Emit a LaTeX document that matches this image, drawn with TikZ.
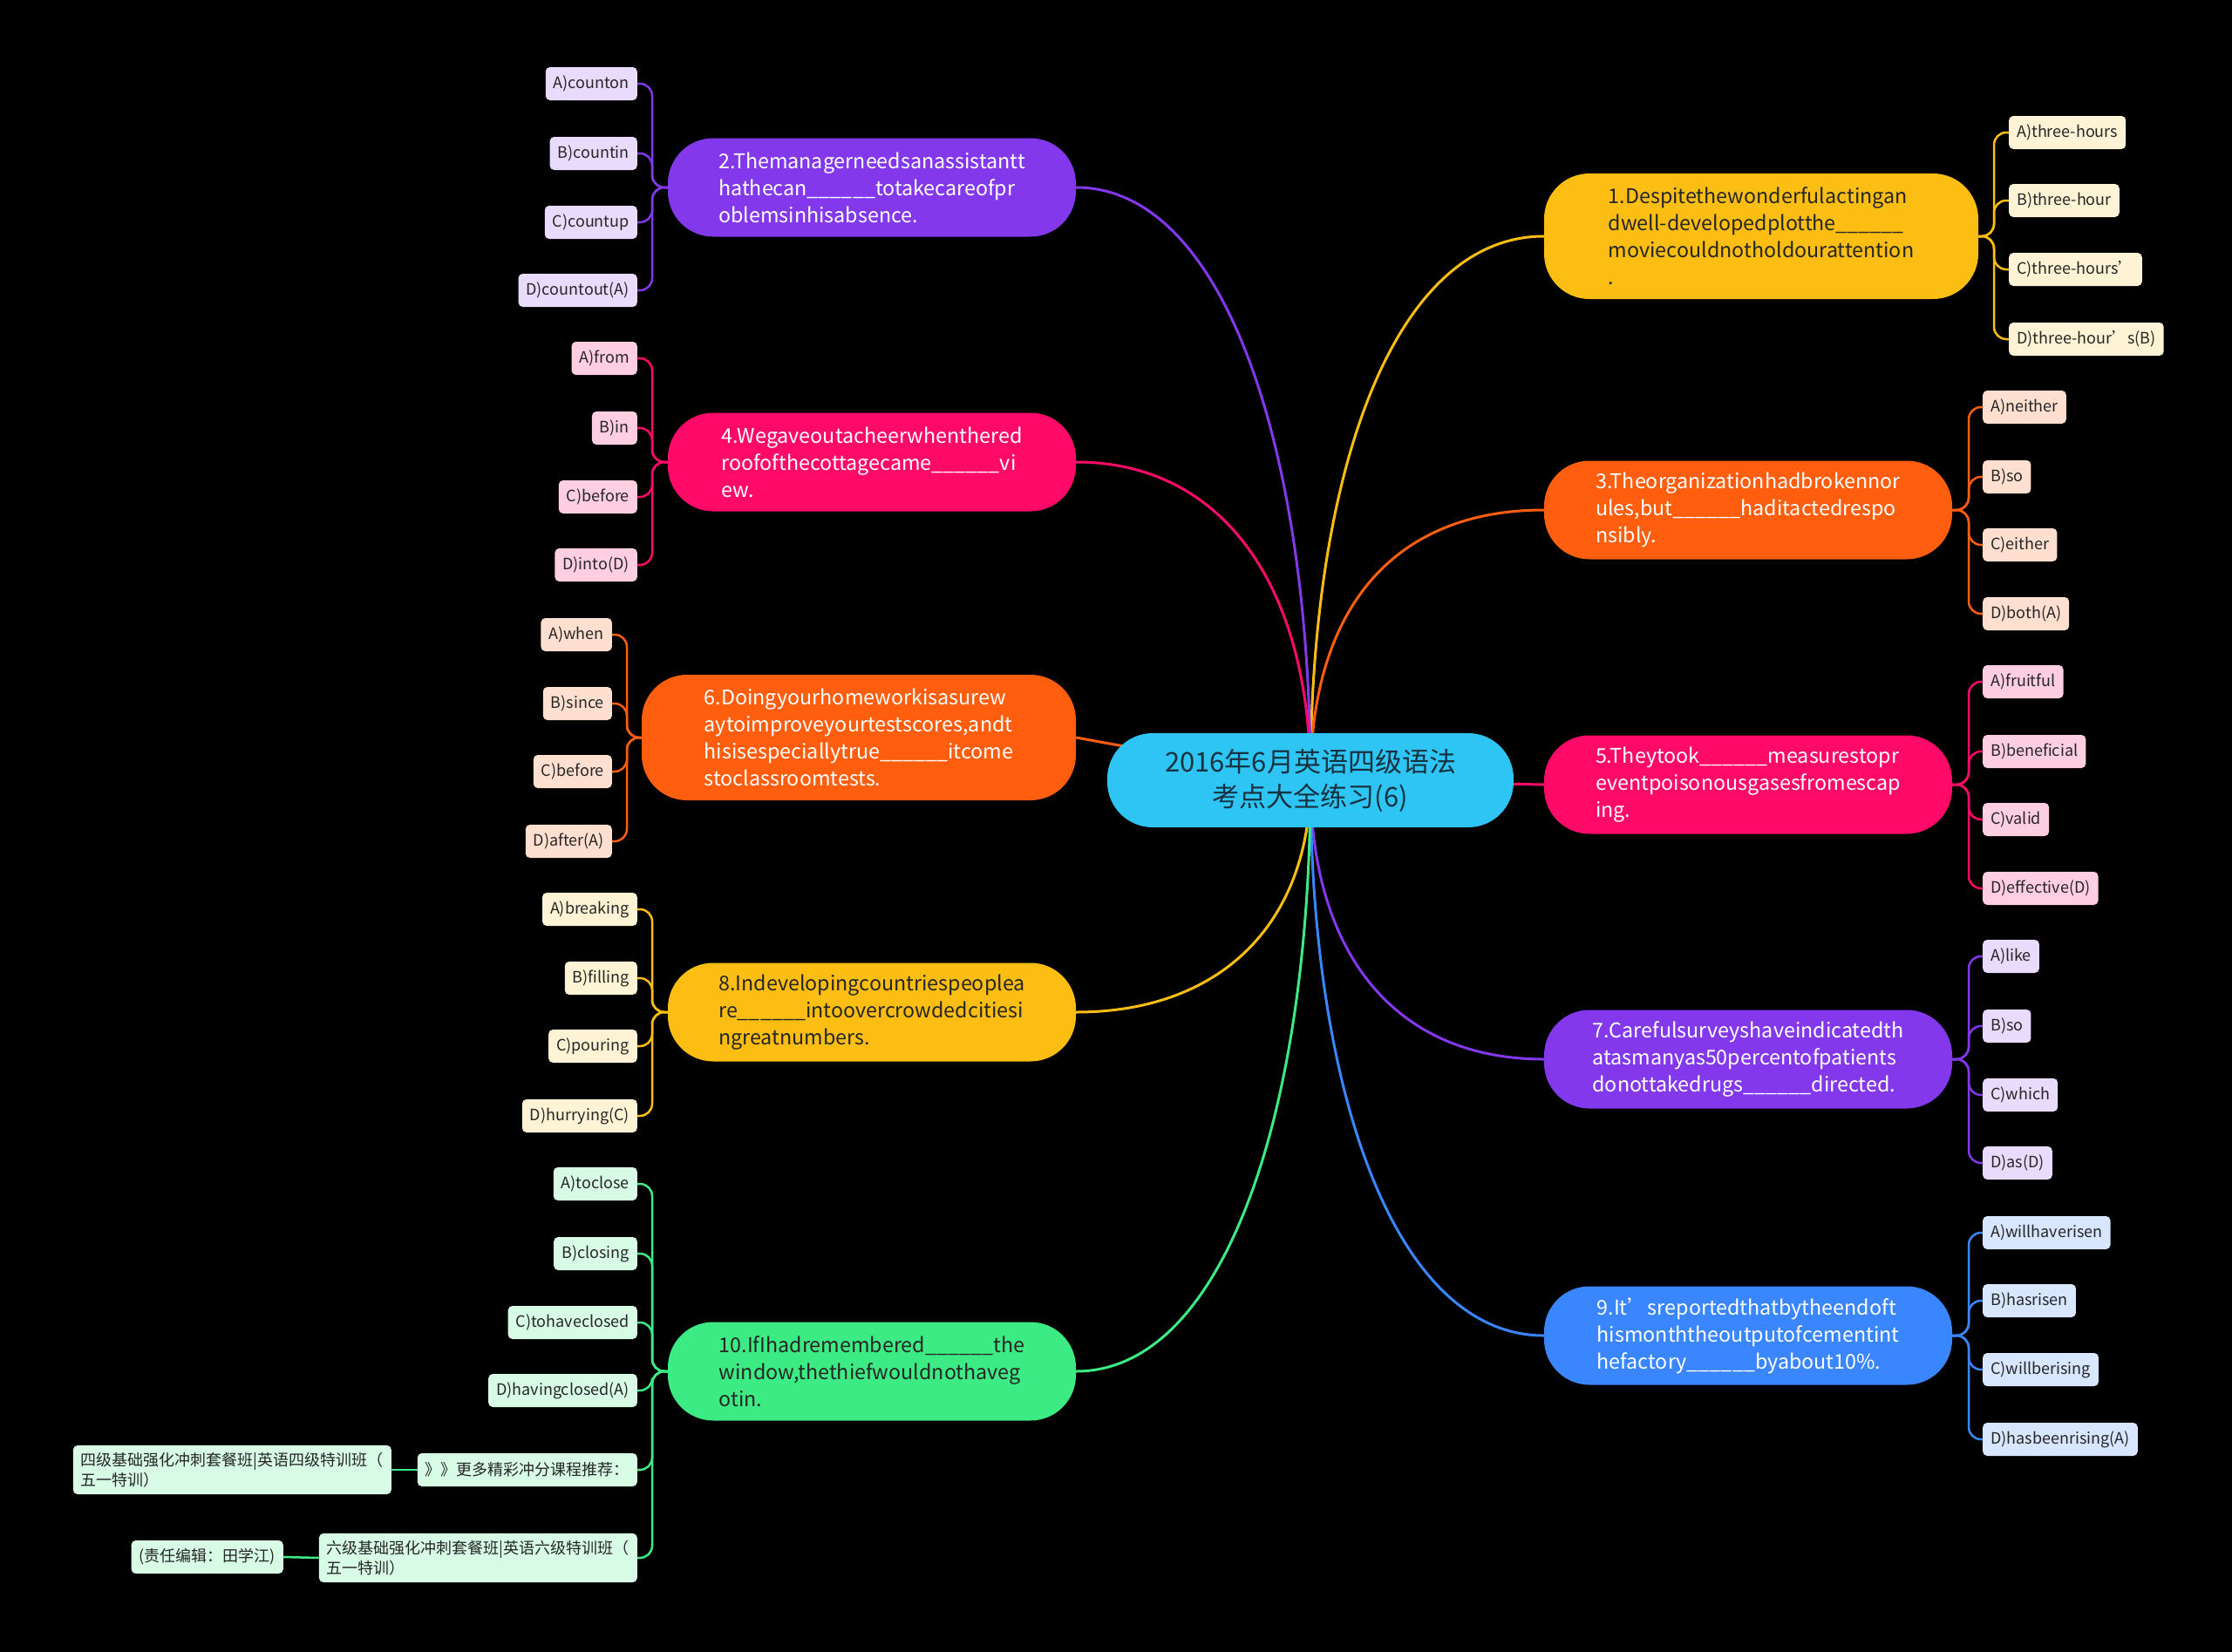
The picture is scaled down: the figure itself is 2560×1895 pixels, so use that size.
\documentclass[tikz,border=0pt]{standalone}
\usepackage{fontspec}
\setmainfont{Noto Sans CJK SC}
\usepackage{xcolor}
\usepackage{tikz}
\usetikzlibrary{positioning,backgrounds}

\definecolor{qcyan}{HTML}{2EC4F3}
\definecolor{qyellow}{HTML}{FDBE13}
\definecolor{qorange}{HTML}{FF5E0E}
\definecolor{qpink}{HTML}{FF0A68}
\definecolor{qpurple}{HTML}{8338EC}
\definecolor{qblue}{HTML}{3A86FF}
\definecolor{qgreen}{HTML}{3DEB84}
\definecolor{qink}{HTML}{16313F}
\newcommand{\qblank}{\_\_\_\_\_\_}

\begin{document}
\begin{tikzpicture}[x=1pt,y=-1pt,
    topic/.style={rounded corners=52pt,minimum width=468pt,minimum height=113pt,inner sep=0pt,align=left,font=\fontsize{23.3}{31}\selectfont},
    opt/.style={rounded corners=5pt,minimum height=38pt,inner xsep=9pt,inner ysep=4pt,align=left,text=black!85,font=\fontsize{18}{23}\selectfont},
    link/.style={line width=3pt},
    twig/.style={line width=2.5pt,rounded corners=14pt}]
    \useasboundingbox (0,0) rectangle (2560,1895);

    \node[topic,fill=qcyan,text=qink,minimum width=466pt,minimum height=108pt,align=center,font=\fontsize{31}{40}\selectfont] (root) at (1503,895) {2016年6月英语四级语法\\考点大全练习(6)};

    \node[topic,fill=qyellow,text=black!85,minimum width=498pt,minimum height=144pt] (q1) at (2020,271) {1.Despitethewonderfulactingan\\dwell-developedplotthe\qblank\\moviecouldnotholdourattention\\.};
    \node[topic,fill=qorange,text=white] (q3) at (2005,585) {3.Theorganizationhadbrokennor\\ules,but\qblank{}haditactedrespo\\nsibly.};
    \node[topic,fill=qpink,text=white] (q5) at (2005,900) {5.Theytook\qblank{}measurestopr\\eventpoisonousgasesfromescap\\ing.};
    \node[topic,fill=qpurple,text=white] (q7) at (2005,1215) {7.Carefulsurveyshaveindicatedth\\atasmanyas50percentofpatients\\donottakedrugs\qblank{}directed.};
    \node[topic,fill=qblue,text=white] (q9) at (2005,1532) {9.It’sreportedthatbytheendoft\\hismonththeoutputofcementint\\hefactory\qblank{}byabout10\%.};

    \node[topic,fill=qpurple,text=white] (q2) at (1000,215) {2.Themanagerneedsanassistantt\\hathecan\qblank{}totakecareofpr\\oblemsinhisabsence.};
    \node[topic,fill=qpink,text=white] (q4) at (1000,530) {4.Wegaveoutacheerwhenthered\\roofofthecottagecame\qblank{}vi\\ew.};
    \node[topic,fill=qorange,text=white,minimum width=498pt,minimum height=144pt] (q6) at (985,846) {6.Doingyourhomeworkisasurew\\aytoimproveyourtestscores,andt\\hisisespeciallytrue\qblank{}itcome\\stoclassroomtests.};
    \node[topic,fill=qyellow,text=black!85] (q8) at (1000,1161) {8.Indevelopingcountriespeoplea\\re\qblank{}intoovercrowdedcitiesi\\ngreatnumbers.};
    \node[topic,fill=qgreen,text=black!85] (q10) at (1000,1573) {10.IfIhadremembered\qblank{}the\\window,thethiefwouldnothaveg\\otin.};

    \begin{scope}[on background layer]
        \fill[black] (0,0) rectangle (2560,1895);
        \draw[link,qyellow] (root.center) .. controls +(0,-360) and +(-170,0) .. (q1.west);
        \draw[link,qorange] (root.center) .. controls +(0,-200) and +(-170,0) .. (q3.west);
        \draw[link,qpink] (root.center) -- (q5.west);
        \draw[link,qpurple] (root.center) .. controls +(0,200) and +(-170,0) .. (q7.west);
        \draw[link,qblue] (root.center) .. controls +(0,360) and +(-170,0) .. (q9.west);
        \draw[link,qpurple] (root.center) .. controls +(0,-380) and +(170,0) .. (q2.east);
        \draw[link,qpink] (root.center) .. controls +(0,-220) and +(170,0) .. (q4.east);
        \draw[link,qorange] (root.center) -- (q6.east);
        \draw[link,qyellow] (root.center) .. controls +(0,160) and +(170,0) .. (q8.east);
        \draw[link,qgreen] (root.center) .. controls +(0,380) and +(170,0) .. (q10.east);
    \end{scope}

    \foreach \y/\t [count=\i] in {152/A)three-hours,230/B)three-hour,309/C)three-hours’,389/D)three-hour’s(B)} {
        \node[opt,fill=qyellow!18,anchor=west] (q1o\i) at (2304,\y) {\t};
        \draw[twig,qyellow] (q1.east) -- (2287,271) -- (2287,\y) -- (q1o\i.west);
    }
    \foreach \y/\t [count=\i] in {467/A)neither,547/B)so,625/C)either,704/D)both(A)} {
        \node[opt,fill=qorange!20,anchor=west] (q3o\i) at (2274,\y) {\t};
        \draw[twig,qorange] (q3.east) -- (2258,585) -- (2258,\y) -- (q3o\i.west);
    }
    \foreach \y/\t [count=\i] in {782/A)fruitful,862/B)beneficial,940/C)valid,1019/D)effective(D)} {
        \node[opt,fill=qpink!20,anchor=west] (q5o\i) at (2274,\y) {\t};
        \draw[twig,qpink] (q5.east) -- (2258,900) -- (2258,\y) -- (q5o\i.west);
    }
    \foreach \y/\t [count=\i] in {1097/A)like,1177/B)so,1256/C)which,1334/D)as(D)} {
        \node[opt,fill=qpurple!18,anchor=west] (q7o\i) at (2274,\y) {\t};
        \draw[twig,qpurple] (q7.east) -- (2258,1215) -- (2258,\y) -- (q7o\i.west);
    }
    \foreach \y/\t [count=\i] in {1414/A)willhaverisen,1492/B)hasrisen,1571/C)willberising,1651/D)hasbeenrising(A)} {
        \node[opt,fill=qblue!20,anchor=west] (q9o\i) at (2274,\y) {\t};
        \draw[twig,qblue] (q9.east) -- (2258,1532) -- (2258,\y) -- (q9o\i.west);
    }

    \foreach \y/\t [count=\i] in {96/A)counton,176/B)countin,255/C)countup,333/D)countout(A)} {
        \node[opt,fill=qpurple!18,anchor=east] (q2o\i) at (731,\y) {\t};
        \draw[twig,qpurple] (q2.west) -- (748,215) -- (748,\y) -- (q2o\i.east);
    }
    \foreach \y/\t [count=\i] in {411/A)from,491/B)in,570/C)before,648/D)into(D)} {
        \node[opt,fill=qpink!20,anchor=east] (q4o\i) at (731,\y) {\t};
        \draw[twig,qpink] (q4.west) -- (748,530) -- (748,\y) -- (q4o\i.east);
    }
    \foreach \y/\t [count=\i] in {728/A)when,807/B)since,885/C)before,965/D)after(A)} {
        \node[opt,fill=qorange!20,anchor=east] (q6o\i) at (702,\y) {\t};
        \draw[twig,qorange] (q6.west) -- (719,846) -- (719,\y) -- (q6o\i.east);
    }
    \foreach \y/\t [count=\i] in {1043/A)breaking,1122/B)filling,1200/C)pouring,1280/D)hurrying(C)} {
        \node[opt,fill=qyellow!18,anchor=east] (q8o\i) at (731,\y) {\t};
        \draw[twig,qyellow] (q8.west) -- (748,1161) -- (748,\y) -- (q8o\i.east);
    }
    \foreach \y/\t [count=\i] in {1358/A)toclose,1438/B)closing,1517/C)tohaveclosed,1595/D)havingclosed(A)} {
        \node[opt,fill=qgreen!20,anchor=east] (q10o\i) at (731,\y) {\t};
        \draw[twig,qgreen] (q10.west) -- (748,1573) -- (748,\y) -- (q10o\i.east);
    }
    \node[opt,fill=qgreen!20,anchor=east] (more) at (731,1686) {》》更多精彩冲分课程推荐：};
    \node[opt,fill=qgreen!20,anchor=east,inner ysep=8pt] (cet6) at (731,1787) {六级基础强化冲刺套餐班|英语六级特训班（\\五一特训）};
    \node[opt,fill=qgreen!20,anchor=east,inner ysep=8pt] (cet4) at (449,1686) {四级基础强化冲刺套餐班|英语四级特训班（\\五一特训）};
    \node[opt,fill=qgreen!20,anchor=east] (editor) at (325,1786) {(责任编辑：田学江)};
    \draw[twig,qgreen] (q10.west) -- (748,1573) -- (748,1686) -- (more.east);
    \draw[twig,qgreen] (q10.west) -- (748,1573) -- (748,1787) -- (cet6.east);
    \draw[twig,qgreen] (more.west) -- (cet4.east);
    \draw[twig,qgreen] (cet6.west) -- (editor.east);
\end{tikzpicture}
\end{document}
